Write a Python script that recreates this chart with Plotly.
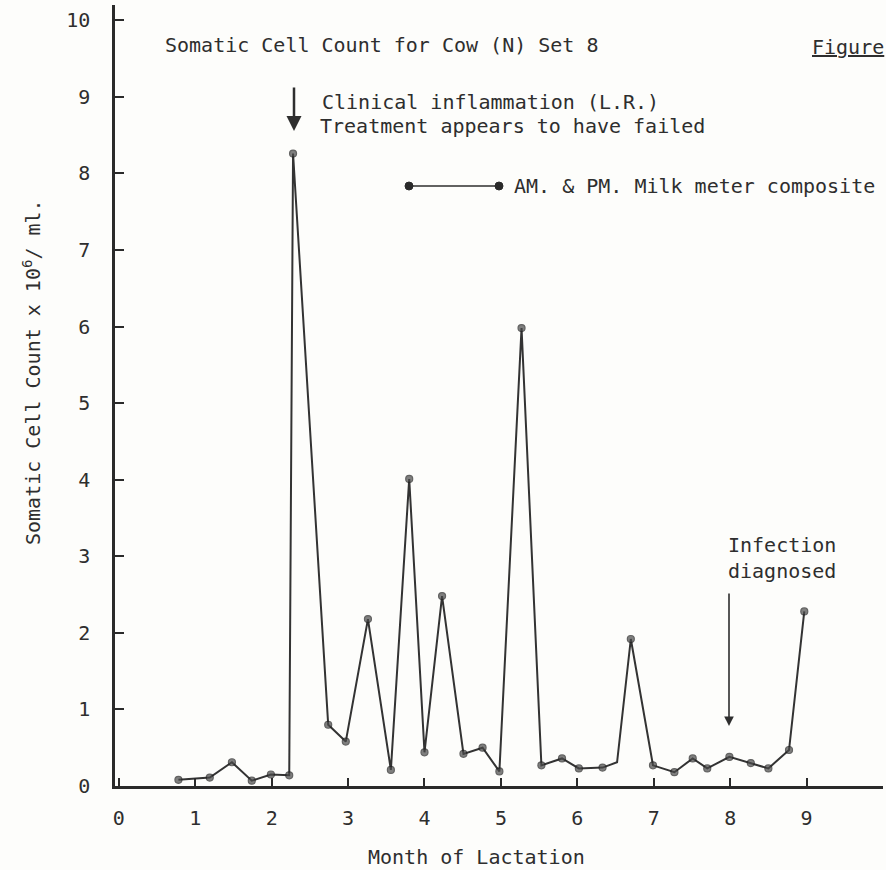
import plotly.graph_objects as go

# ---- data ----
month = [0.78, 1.19, 1.48, 1.74, 1.99, 2.23, 2.28, 2.74, 2.97, 3.26, 3.56, 3.80,
         4.00, 4.23, 4.51, 4.76, 4.98, 5.27, 5.53, 5.80, 6.02, 6.33, 6.52, 6.70,
         6.99, 7.27, 7.51, 7.70, 7.99, 8.27, 8.50, 8.77, 8.97]
scc = [0.08, 0.11, 0.31, 0.07, 0.15, 0.14, 8.26, 0.80, 0.58, 2.18, 0.21, 4.01,
       0.44, 2.48, 0.42, 0.50, 0.19, 5.98, 0.27, 0.36, 0.23, 0.24, 0.31, 1.92,
       0.27, 0.18, 0.36, 0.23, 0.38, 0.30, 0.23, 0.47, 2.28]
marked = [True] * len(month)
marked[22] = False  # kink drawn without a dot

x_ticks = list(range(0, 10))
y_ticks = list(range(0, 11))

title_text = "Somatic Cell Count for Cow (N) Set 8"
x_title = "Month of Lactation"
y_title = "Somatic Cell Count x 10<sup>6</sup>/ ml."
legend_text = "AM. & PM. Milk meter composite"
note1 = "Clinical inflammation (L.R.)"
note2 = "Treatment appears to have failed"
note3 = "Infection<br>diagnosed"
fig_label = "<u>Figure</u>"

# ---- layout geometry ----
W, H = 886, 870
L, R, T, B = 115, 3, 5, 84
PW, PH = W - L - R, H - T - B
FONT = "DejaVu Sans Mono"
INK = "#2e2e2e"
FS = 20


def fx(px):
    return (px - L) / PW


def fy(py):
    return (H - B - py) / PH


fig = go.Figure()
fig.add_trace(go.Scatter(
    x=month, y=scc, mode="lines+markers",
    line=dict(color="#333333", width=2),
    marker=dict(size=[7 if m else 0 for m in marked], color="#4a4a4a",
                line=dict(color="#222222", width=1.2)),
    showlegend=False, hoverinfo="skip"))

ann = []


def text(t, px, py, size=FS, xanchor="left", **kw):
    ann.append(dict(text=t, x=fx(px), y=fy(py), xref="paper", yref="paper",
                    xanchor=xanchor, yanchor="middle", showarrow=False,
                    font=dict(family=FONT, size=size, color=INK), **kw))


text(title_text, 163, 45)
text(fig_label, 810, 47)
text(note1, 320, 102)
text(note2, 318, 126)
text(legend_text, 512, 186)
text(note3, 726, 558, align="left")
text(x_title, 476, 857, xanchor="center")
ann.append(dict(text=y_title, x=fx(32), y=fy(372), xref="paper", yref="paper",
                xanchor="center", yanchor="middle", showarrow=False, textangle=-90,
                font=dict(family=FONT, size=FS, color=INK)))

# arrows
ann.append(dict(text="", x=fx(294), y=fy(131), xref="paper", yref="paper",
                ax=0, ay=-45, showarrow=True, arrowhead=2, arrowsize=1.2,
                arrowwidth=2.5, arrowcolor=INK))
ann.append(dict(text="", x=fx(729), y=fy(726), xref="paper", yref="paper",
                ax=0, ay=-134, showarrow=True, arrowhead=2, arrowsize=1.2,
                arrowwidth=1.6, arrowcolor=INK))

shapes = [
    dict(type="line", xref="paper", yref="paper", x0=fx(409), x1=fx(499),
         y0=fy(186), y1=fy(186), line=dict(color=INK, width=1.5)),
]
for cx in (409, 499):
    shapes.append(dict(type="circle", xref="paper", yref="paper",
                       x0=fx(cx - 4), x1=fx(cx + 4), y0=fy(186 + 4), y1=fy(186 - 4),
                       fillcolor="#2a2a2a", line=dict(color="#2a2a2a", width=1)))

fig.update_layout(
    width=W, height=H, margin=dict(l=L, r=R, t=T, b=B),
    paper_bgcolor="#fdfdfb", plot_bgcolor="#fdfdfb",
    annotations=ann, shapes=shapes,
    font=dict(family=FONT, size=FS, color=INK),
)
fig.update_xaxes(range=[-0.05, 10.0], tickvals=x_ticks, ticktext=[str(v) for v in x_ticks],
                 showline=True, linecolor="#2a2a2a", linewidth=2.5,
                 ticks="inside", ticklen=8, tickwidth=2, tickcolor="#2a2a2a",
                 showgrid=False, zeroline=False, ticklabelstandoff=12,
                 tickfont=dict(family=FONT, size=20, color=INK))
fig.update_yaxes(range=[0, 10.2], tickvals=y_ticks, ticktext=[str(v) for v in y_ticks],
                 showline=True, linecolor="#2a2a2a", linewidth=2.5,
                 ticks="inside", ticklen=9, tickwidth=2, tickcolor="#2a2a2a",
                 showgrid=False, zeroline=False, ticklabelstandoff=18,
                 tickfont=dict(family=FONT, size=20, color=INK))

fig.write_html("out.html")
